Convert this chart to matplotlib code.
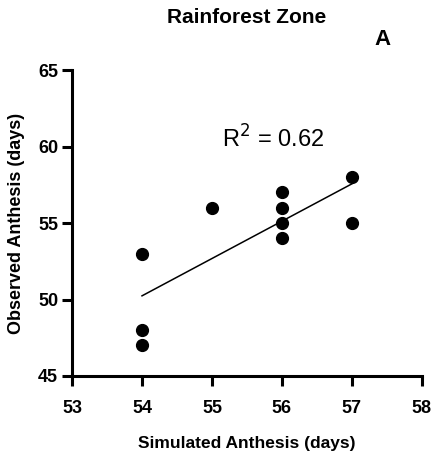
import numpy as np
import matplotlib
matplotlib.use("Agg")
from matplotlib import pyplot as plt

# simulated vs observed anthesis, rainforest zone
simulated = [54, 54, 54, 55, 56, 56, 56, 56, 57, 57]
observed = [53, 48, 47, 56, 57, 56, 55, 54, 58, 55]

xticks = [53, 54, 55, 56, 57, 58]
yticks = [45, 50, 55, 60, 65]

font = "Liberation Sans"

fig = plt.figure(figsize=(4.34, 4.70), dpi=100)
ax = fig.add_axes([0.166, 0.2, 0.806, 0.651])

ax.plot(simulated, observed, "o", color="black", markersize=8.5)

# linear fit
x = np.array(simulated, dtype=float)
y = np.array(observed, dtype=float)
slope, icpt = np.polyfit(x, y, 1)
r2 = np.corrcoef(x, y)[0, 1] ** 2
xs = np.array([x.min(), x.max()])
ax.plot(xs, slope * xs + icpt, color="black", lw=1.1)

ax.text(55.14, 60.5, "R$^2$ = %.2f" % r2, fontsize=17, family=font,
        va="center", ha="left")

ax.set_xlim(53, 58)
ax.set_ylim(45, 65)
ax.set_xticks(xticks)
ax.set_yticks(yticks)
for s in ["top", "right"]:
    ax.spines[s].set_visible(False)
for s in ["left", "bottom"]:
    ax.spines[s].set_linewidth(2.2)
ax.tick_params(width=2.2, length=7, labelsize=13)
ax.tick_params(axis="x", pad=10)
ax.tick_params(axis="y", pad=3)
for lab in ax.get_xticklabels() + ax.get_yticklabels():
    lab.set_family(font)
    lab.set_fontweight("bold")

ax.set_xlabel("Simulated Anthesis (days)", fontsize=12.5, family=font,
              fontweight="bold", labelpad=14)
ax.set_ylabel("Observed Anthesis (days)", fontsize=13,
              family=font, fontweight="bold")
ax.yaxis.set_label_coords(-0.135, 0.5)

fig.text(0.569, 0.962, "Rainforest Zone", fontsize=15, family=font,
         fontweight="bold", ha="center", va="center")
fig.text(0.882, 0.915, "A", fontsize=16, family=font,
         fontweight="bold", ha="center", va="center")

fig.savefig("out.png", dpi=100)
